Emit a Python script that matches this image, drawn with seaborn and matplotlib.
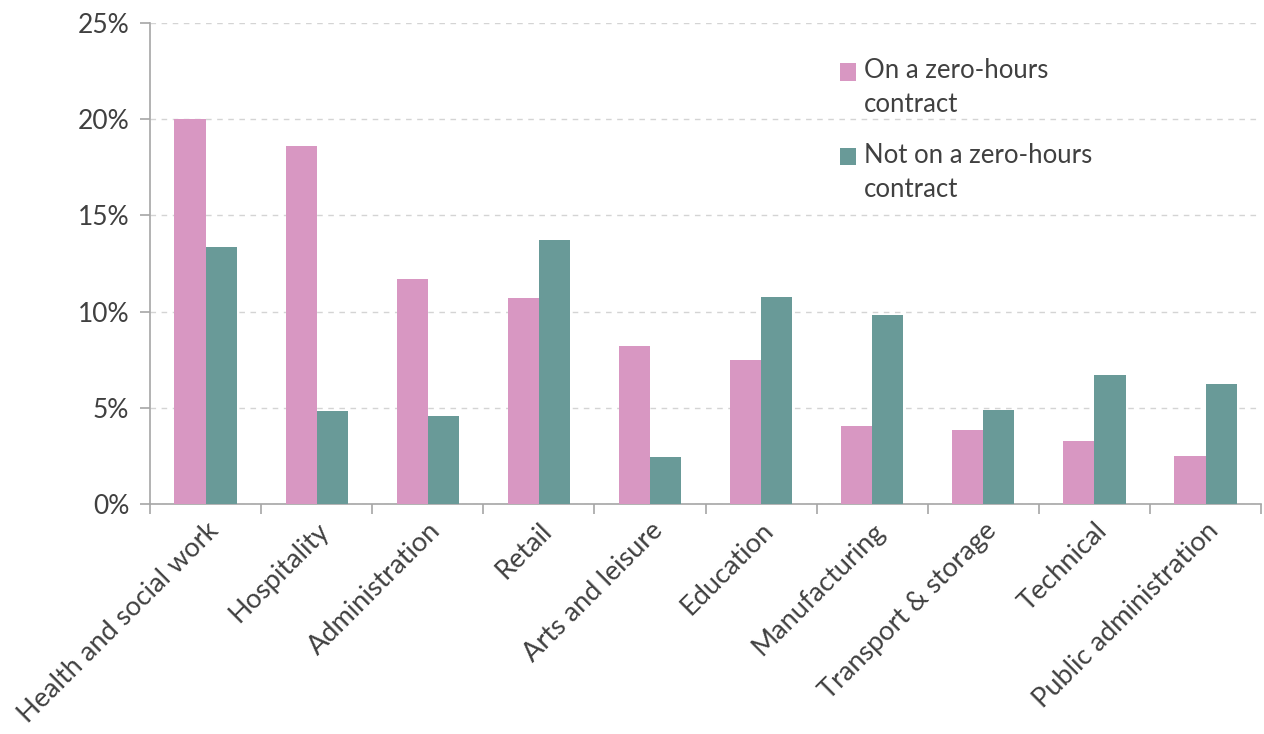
import pandas as pd
import matplotlib
matplotlib.use('Agg')
import matplotlib.pyplot as plt
import seaborn as sns
from matplotlib.ticker import PercentFormatter, FixedLocator

# Sectors and shares (%)
sectors = ['Health and social work', 'Hospitality', 'Administration', 'Retail',
           'Arts and leisure', 'Education', 'Manufacturing', 'Transport & storage',
           'Technical', 'Public administration']
zero_hours = [20.0, 18.6, 11.7, 10.7, 8.2, 7.5, 4.05, 3.85, 3.25, 2.5]
not_zero_hours = [13.35, 4.85, 4.55, 13.7, 2.45, 10.75, 9.8, 4.9, 6.7, 6.25]
series_names = ['On a zero-hours\ncontract', 'Not on a zero-hours\ncontract']

df = pd.DataFrame({
    'Sector': sectors * 2,
    'Share': zero_hours + not_zero_hours,
    'Group': [series_names[0]] * len(sectors) + [series_names[1]] * len(sectors),
})

sns.set_theme(style='white')
plt.rcParams['font.family'] = ['Lato', 'DejaVu Sans']

fig = plt.figure(figsize=(12.64, 7.34), dpi=100)
ax = fig.add_axes([0.1187, 0.3134, 0.879, 0.6553])

palette = {series_names[0]: '#D897C2', series_names[1]: '#699A98'}
sns.barplot(data=df, x='Sector', y='Share', hue='Group', palette=palette,
            width=0.56, gap=0, saturation=1, linewidth=0, ax=ax, zorder=3)

ax.set_ylim(0, 25)
ax.set_xlim(-0.5, len(sectors) - 0.5)
ax.set_yticks([0, 5, 10, 15, 20, 25])
ax.yaxis.set_major_formatter(PercentFormatter(decimals=0))
ax.yaxis.grid(True, linestyle=(0, (4, 4)), color='#d4d4d4', linewidth=1, zorder=0)
ax.set_xlabel('')
ax.set_ylabel('')

for s in ['top', 'right']:
    ax.spines[s].set_visible(False)
for s in ['left', 'bottom']:
    ax.spines[s].set_color('#a6a6a6')
    ax.spines[s].set_linewidth(1.2)

# category ticks sit at group boundaries
ax.xaxis.set_minor_locator(FixedLocator([i - 0.5 for i in range(len(sectors) + 1)]))
ax.tick_params(axis='x', which='minor', length=7, color='#a6a6a6', width=1.2, bottom=True)
ax.tick_params(axis='x', which='major', length=0, pad=10, labelsize=19.5, labelcolor='#404040')
ax.tick_params(axis='y', length=7, color='#a6a6a6', width=1.2, left=True,
               labelsize=19, labelcolor='#404040', pad=8)
plt.setp(ax.get_xticklabels(), rotation=45, ha='right', rotation_mode='anchor')

leg = ax.legend(loc='upper left', bbox_to_anchor=(0.6, 0.975), frameon=False,
                fontsize=18.5, handlelength=0.65, handleheight=0.65, handletextpad=0.3,
                labelspacing=1.0, labelcolor='#404040')
for t in leg.get_texts():
    t.set_linespacing(1.45)
# put the swatch next to the first line of each label
for p in leg.get_patches():
    p.set_y(p.get_y() + 12)

fig.savefig('out.png', dpi=100)
